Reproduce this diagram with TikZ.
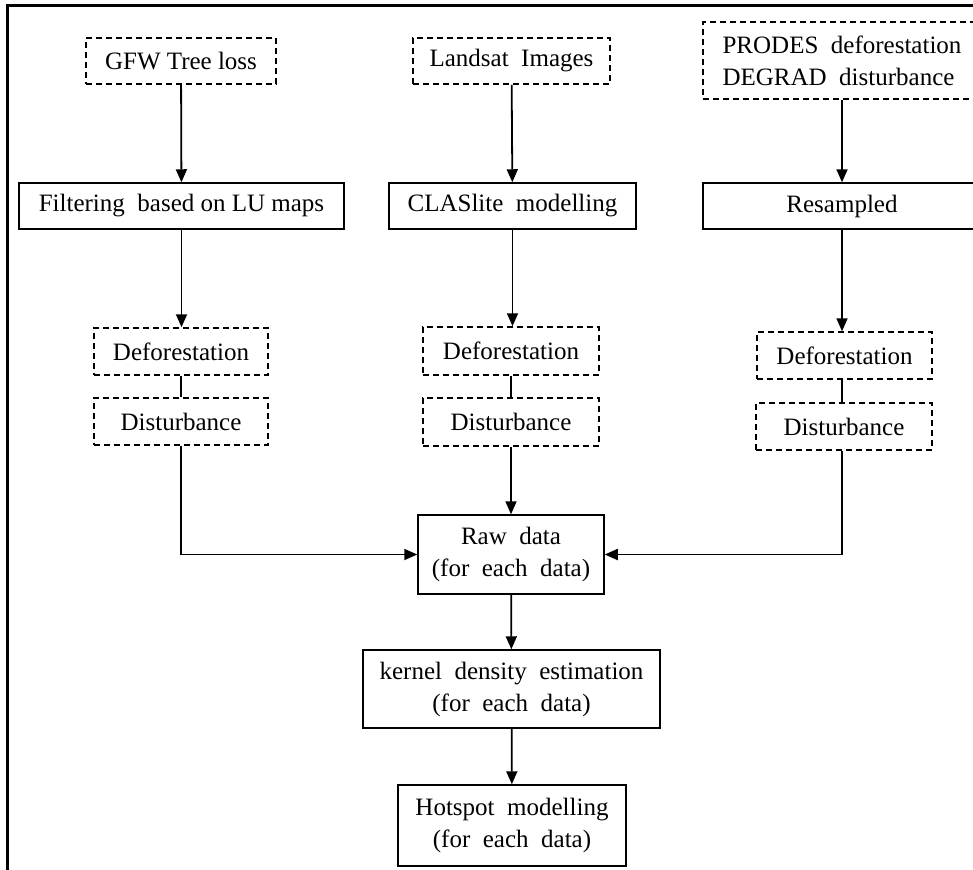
\documentclass[tikz,border=0pt]{standalone}
\usepackage{fontspec}
\setmainfont{Liberation Serif}
\usetikzlibrary{arrows.meta,calc}
\begin{document}
\begin{tikzpicture}[x=0.5pt,y=-0.5pt,
  font=\fontsize{12.5}{16}\selectfont,
  box/.style={draw, line width=0.75pt, inner sep=0pt, align=center},
  dbox/.style={box, dash pattern=on 3pt off 2pt},
  conn/.style={line width=0.9pt},
  arr/.style={conn, -{Triangle[length=6.5pt,width=5.5pt]}}]
\useasboundingbox (0,0) rectangle (973,869);
% frame
\draw[line width=1.5pt] (7,870) -- (7,5) -- (980,5);
% left column
\node[dbox, minimum width=95pt, minimum height=23pt] (gfw) at (181,61) {GFW Tree loss};
\node[box, minimum width=162.5pt, minimum height=23pt] (filt) at (181.5,206) {Filtering\ \ based on LU maps};
\node[dbox, minimum width=87pt, minimum height=23.5pt] (defL) at (181,351.5) {Deforestation};
\node[dbox, minimum width=87pt, minimum height=23.5pt] (disL) at (181,421.5) {Disturbance};
% middle column
\node[dbox, minimum width=98.5pt, minimum height=23pt] (land) at (511.5,61) {Landsat\ \ Images};
\node[box, minimum width=123.5pt, minimum height=23pt] (clas) at (512.5,206) {CLASlite\ \ modelling};
\node[dbox, minimum width=88pt, minimum height=24pt] (defM) at (511,351) {Deforestation};
\node[dbox, minimum width=88pt, minimum height=24pt] (disM) at (511,422) {Disturbance};
% right column
\node[dbox, minimum width=139pt, minimum height=38.5pt, align=left] (prodes) at (842,60.5) {PRODES\ \ deforestation\\DEGRAD\ \ disturbance};
\node[box, minimum width=139pt, minimum height=23pt] (res) at (842,206) {Resampled};
\node[dbox, minimum width=87.5pt, minimum height=23.5pt] (defR) at (844.5,355.5) {Deforestation};
\node[dbox, minimum width=88pt, minimum height=23.5pt] (disR) at (844,426.5) {Disturbance};
% bottom chain
\node[box, minimum width=93pt, minimum height=39.5pt] (raw) at (511,554.5) {Raw\ \ data\\(for\ \ each\ \ data)};
\node[box, minimum width=148.5pt, minimum height=39pt] (kde) at (511.5,689) {kernel\ \ density\ \ estimation\\(for\ \ each\ \ data)};
\node[box, minimum width=114pt, minimum height=40.5pt] (hot) at (512,825.5) {Hotspot\ \ modelling\\(for\ \ each\ \ data)};
% connectors
\draw[arr] (gfw) -- (filt);
\draw[arr] (land) -- (clas);
\draw[arr] (prodes) -- (res);
\draw[arr] (filt) -- (filt |- defL.north);
\draw[arr] (clas) -- (clas |- defM.north);
\draw[arr] (res) -- (res |- defR.north);
\draw[conn] (defL) -- (disL);
\draw[conn] (defM) -- (disM);
\draw[conn] (defR.south -| res) -- (disR.north -| res);
\draw[arr] (disM) -- (raw);
\draw[arr] (disL) |- (raw.west);
\draw[arr] (disR.south -| res) |- (raw.east);
\draw[arr] (raw) -- (kde);
\draw[arr] (kde) -- (hot);
\end{tikzpicture}
\end{document}
